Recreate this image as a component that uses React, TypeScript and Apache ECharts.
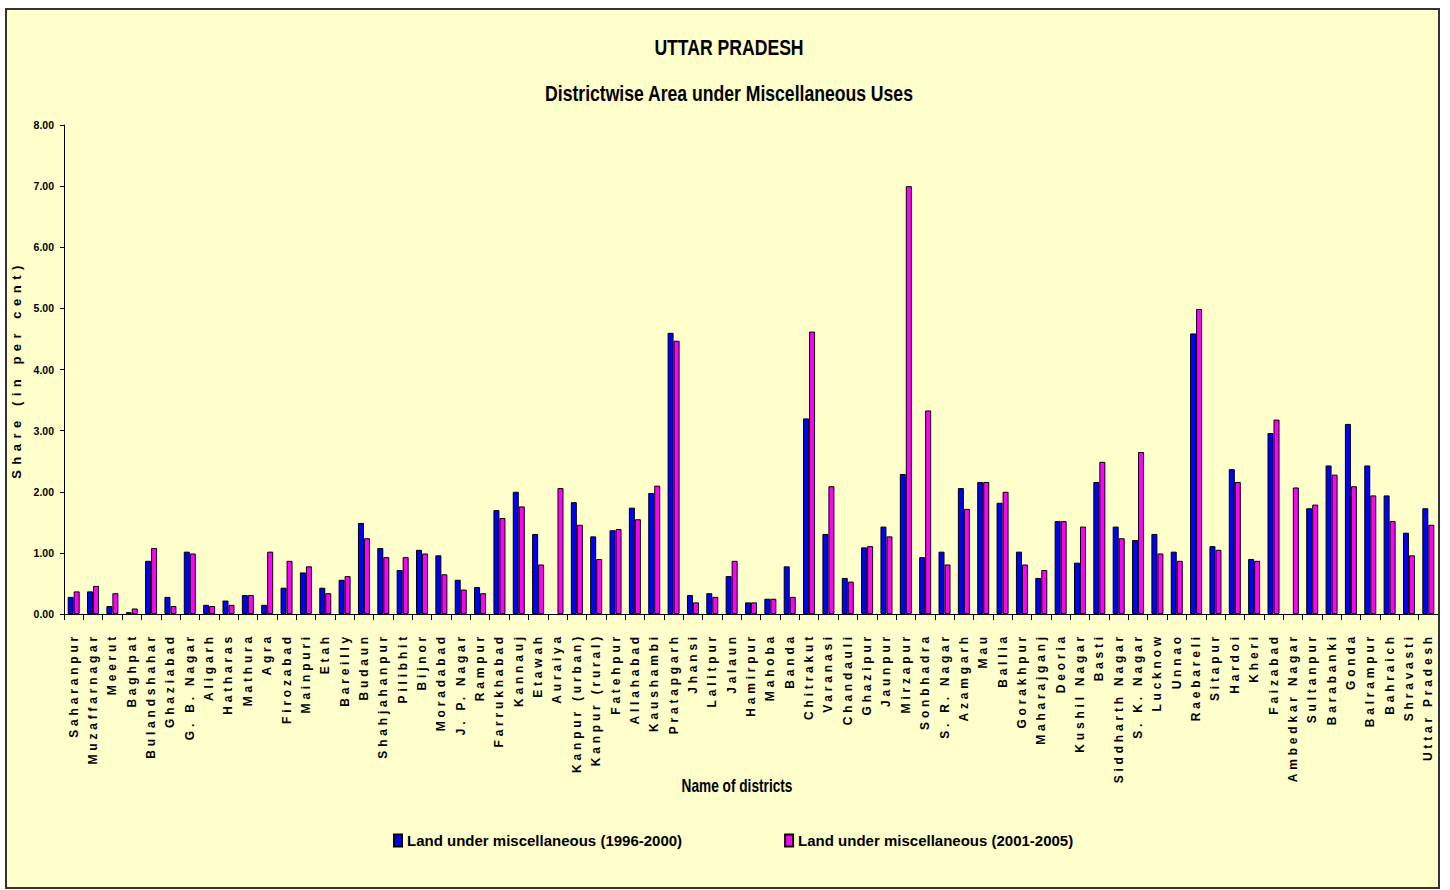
import { useEffect, useRef } from "react";
import * as echarts from "echarts";

const districts = [
  "Saharanpur", "Muzaffarnagar", "Meerut", "Baghpat", "Bulandshahar", "Ghaziabad", "G. B. Nagar",
  "Aligarh", "Hatharas", "Mathura", "Agra", "Firozabad", "Mainpuri", "Etah", "Bareilly", "Budaun",
  "Shahjahanpur", "Pilibhit", "Bijnor", "Moradabad", "J. P. Nagar", "Rampur", "Farrukhabad", "Kannauj",
  "Etawah", "Auraiya", "Kanpur (urban)", "Kanpur (rural)", "Fatehpur", "Allahabad", "Kaushambi",
  "Pratapgarh", "Jhansi", "Lalitpur", "Jalaun", "Hamirpur", "Mahoba", "Banda", "Chitrakut", "Varanasi",
  "Chandauli", "Ghazipur", "Jaunpur", "Mirzapur", "Sonbhadra", "S. R. Nagar", "Azamgarh", "Mau",
  "Ballia", "Gorakhpur", "Maharajganj", "Deoria", "Kushil Nagar", "Basti", "Siddharth Nagar",
  "S. K. Nagar", "Lucknow", "Unnao", "Raebareli", "Sitapur", "Hardoi", "Kheri", "Faizabad",
  "Ambedkar Nagar", "Sultanpur", "Barabanki", "Gonda", "Balrampur", "Bahraich", "Shravasti",
  "Uttar Pradesh",
];

const misc1996to2000 = [
  0.28, 0.37, 0.13, 0.03, 0.87, 0.28, 1.02, 0.15, 0.22, 0.31, 0.15, 0.43, 0.68, 0.43, 0.56, 1.49,
  1.08, 0.72, 1.05, 0.96, 0.56, 0.44, 1.7, 2.0, 1.31, null, 1.83, 1.27, 1.37, 1.74, 1.98, 4.6, 0.31,
  0.34, 0.62, 0.19, 0.25, 0.78, 3.2, 1.31, 0.59, 1.09, 1.43, 2.29, 0.93, 1.02, 2.06, 2.16, 1.82,
  1.02, 0.59, 1.52, 0.84, 2.16, 1.43, 1.21, 1.31, 1.02, 4.59, 1.11, 2.37, 0.9, 2.96, null, 1.73,
  2.43, 3.11, 2.43, 1.94, 1.33, 1.73,
];

const misc2001to2005 = [
  0.37, 0.46, 0.34, 0.09, 1.08, 0.13, 0.99, 0.13, 0.15, 0.31, 1.02, 0.87, 0.78, 0.34, 0.62, 1.24,
  0.93, 0.93, 0.99, 0.65, 0.4, 0.34, 1.57, 1.76, 0.81, 2.06, 1.46, 0.9, 1.39, 1.55, 2.1, 4.47, 0.19,
  0.28, 0.87, 0.19, 0.25, 0.28, 4.62, 2.09, 0.53, 1.11, 1.27, 7.0, 3.33, 0.81, 1.72, 2.16, 2.0, 0.81,
  0.72, 1.52, 1.43, 2.49, 1.24, 2.65, 0.99, 0.87, 4.99, 1.05, 2.16, 0.87, 3.18, 2.07, 1.79, 2.28,
  2.09, 1.94, 1.52, 0.96, 1.46,
];

const seriesNames = ["Land under miscellaneous (1996-2000)", "Land under miscellaneous (2001-2005)"];
const titleText = "UTTAR PRADESH";
const subtitleText = "Districtwise Area under Miscellaneous Uses";
const yAxisName = "Share (in per cent)";
const xAxisName = "Name of districts";

const FONT = "'Liberation Sans', Arial, sans-serif";

export default function App() {
  const ref = useRef<HTMLDivElement>(null);

  useEffect(() => {
    const el = ref.current as HTMLDivElement;
    const chart = echarts.init(el, null, { renderer: "svg" });
    chart.setOption({
      animation: false,
      backgroundColor: "#FFFFCC",
      textStyle: { fontFamily: FONT, fontWeight: "bold", color: "#000" },
      graphic: [
        {
          type: "text",
          x: 722,
          y: 37,
          scaleX: 0.8,
          style: {
            text: titleText,
            fontFamily: FONT,
            fontSize: 22,
            fontWeight: "bold",
            fill: "#000",
            align: "center",
            verticalAlign: "middle",
          },
        },
        {
          type: "text",
          x: 722,
          y: 83,
          scaleX: 0.8,
          style: {
            text: subtitleText,
            fontFamily: FONT,
            fontSize: 22,
            fontWeight: "bold",
            fill: "#000",
            align: "center",
            verticalAlign: "middle",
          },
        },
        {
          type: "text",
          x: 730,
          y: 776,
          scaleX: 0.76,
          style: {
            text: xAxisName,
            fontFamily: FONT,
            fontSize: 18,
            fontWeight: "bold",
            fill: "#000",
            align: "center",
            verticalAlign: "middle",
          },
        },
      ],
      legend: {
        left: 386,
        top: 823,
        padding: 0,
        itemWidth: 8,
        itemHeight: 12,
        itemGap: 102,
        icon: "rect",
        textStyle: { fontFamily: FONT, fontSize: 15, fontWeight: "bold", color: "#000" },
        data: seriesNames,
      },
      grid: { left: 57, right: 0, top: 115, bottom: 273, containLabel: false, outerBoundsMode: "none" },
      xAxis: {
        type: "category",
        data: districts,
        axisLine: { lineStyle: { color: "#000", width: 1 } },
        axisTick: { show: true, length: 6, lineStyle: { color: "#000" } },
        axisLabel: {
          interval: 0,
          rotate: 90,
          margin: 19,
          padding: [9, 0, 0, 0],
          fontFamily: FONT,
          fontSize: 12,
          fontWeight: "bold",
          color: "#000",
        },
        splitLine: { show: false },
      },
      yAxis: {
        type: "value",
        min: 0,
        max: 8,
        interval: 1,
        name: yAxisName,
        nameLocation: "middle",
        nameGap: 36,
        nameTextStyle: { fontFamily: FONT, fontSize: 13, fontWeight: "bold", color: "#000" },
        axisLine: { show: true, lineStyle: { color: "#000", width: 1 } },
        axisTick: { show: true, length: 4, lineStyle: { color: "#000" } },
        axisLabel: {
          margin: 10,
          fontFamily: FONT,
          fontSize: 10.5,
          fontWeight: "bold",
          color: "#000",
          formatter: (v: number) => v.toFixed(2),
        },
        splitLine: { show: false },
      },
      series: [
        {
          name: seriesNames[0],
          type: "bar",
          data: misc1996to2000,
          barWidth: 6,
          barGap: "0%",
          itemStyle: { color: "#0000FF", borderColor: "#000", borderWidth: 1 },
        },
        {
          name: seriesNames[1],
          type: "bar",
          data: misc2001to2005,
          barWidth: 6,
          barGap: "0%",
          itemStyle: { color: "#FF00FF", borderColor: "#000", borderWidth: 1 },
        },
      ],
    });

    const labelSet = new Set(districts);
    const applySpacing = () => {
      el.querySelectorAll("text").forEach((t) => {
        const s = (t.textContent || "").trim();
        if (labelSet.has(s)) (t as SVGTextElement).style.letterSpacing = "3.8px";
        else if (s === yAxisName) (t as SVGTextElement).style.letterSpacing = "5.5px";
      });
    };
    applySpacing();
    chart.on("finished", applySpacing);

    return () => {
      chart.dispose();
    };
  }, []);

  return (
    <div
      style={{
        position: "absolute",
        left: 5,
        top: 8,
        width: 1435,
        height: 881,
        boxSizing: "border-box",
        border: "2px solid #333",
        background: "#FFFFCC",
        overflow: "hidden",
      }}
    >
      <div ref={ref} style={{ width: 1431, height: 877 }} />
    </div>
  );
}
